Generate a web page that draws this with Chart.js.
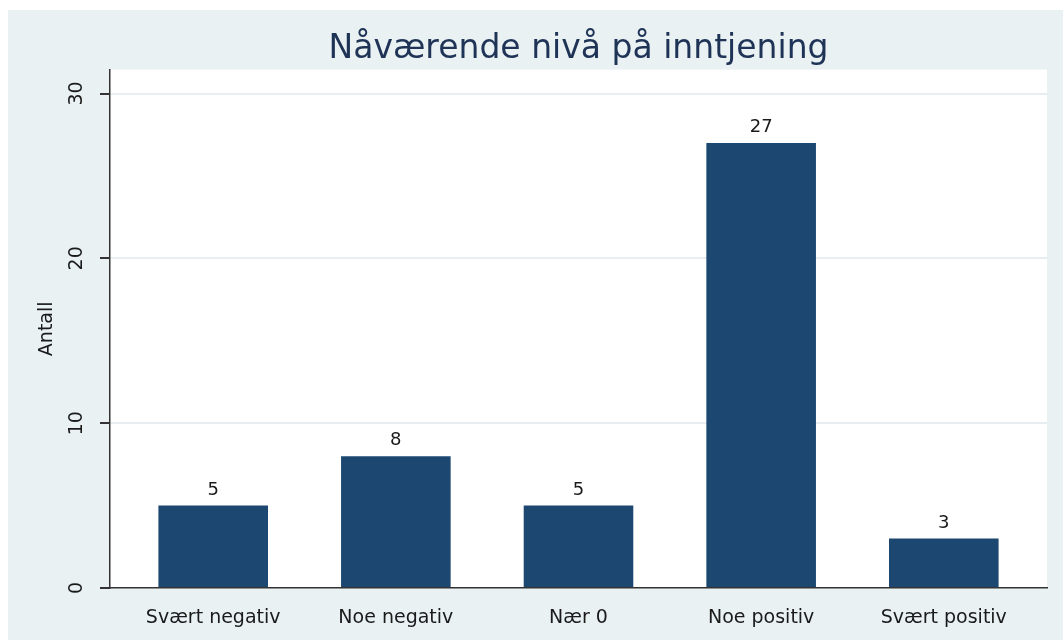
<!DOCTYPE html>
<html>
<head>
<meta charset="utf-8">
<script src="https://cdn.jsdelivr.net/npm/chart.js@4.4.1/dist/chart.umd.min.js"></script>
<style>
  html, body { margin: 0; padding: 0; background: #ffffff; }
  #wrap { position: absolute; left: 8px; top: 10px; width: 1055px; height: 630px; background: #e9f1f3; }
  canvas { display: block; }
</style>
</head>
<body>
<div id="wrap"><canvas id="c" width="1055" height="630"></canvas></div>
<script>
const categories = ["Svært negativ", "Noe negativ", "Nær 0", "Noe positiv", "Svært positiv"];
const counts = [5, 8, 5, 27, 3];
const yTicks = [0, 10, 20, 30];
const chartTitle = "Nåværende nivå på inntjening";
const yTitle = "Antall";

const FONT = "'DejaVu Sans', 'Liberation Sans', Arial, sans-serif";

const plotBg = {
  id: 'plotBg',
  beforeDraw(chart) {
    const { ctx, chartArea: a } = chart;
    ctx.save();
    ctx.fillStyle = '#ffffff';
    ctx.fillRect(a.left, a.top, a.right - a.left, a.bottom - a.top);
    ctx.restore();
  }
};

const labelsPlugin = {
  id: 'labelsPlugin',
  afterDraw(chart) {
    const ctx = chart.ctx;
    const y = chart.scales.y;
    ctx.save();
    ctx.fillStyle = '#1a1a1a';
    ctx.font = '19px ' + FONT;
    ctx.textAlign = 'center';
    ctx.textBaseline = 'middle';
    // rotated y tick labels
    yTicks.forEach(v => {
      const py = y.getPixelForValue(v);
      ctx.save();
      ctx.translate(69, py);
      ctx.rotate(-Math.PI / 2);
      ctx.fillText(String(v), 0, 0);
      ctx.restore();
    });
    // value labels above bars
    const meta = chart.getDatasetMeta(0);
    ctx.font = '18px ' + FONT;
    ctx.textBaseline = 'alphabetic';
    meta.data.forEach((bar, i) => {
      ctx.fillText(String(counts[i]), bar.x, bar.y - 11);
    });
    ctx.restore();
  }
};

new Chart(document.getElementById('c'), {
  type: 'bar',
  data: {
    datasets: [{
      data: counts.map((v, i) => ({ x: i, y: v })),
      backgroundColor: '#1c4770',
      borderWidth: 0,
      barPercentage: 0.6,
      categoryPercentage: 1.0
    }]
  },
  options: {
    responsive: false,
    animation: false,
    layout: { padding: { left: 0, right: 16, top: 0, bottom: 0 } },
    plugins: {
      legend: { display: false },
      tooltip: { enabled: false },
      title: {
        display: true,
        text: chartTitle,
        fullSize: false,
        color: '#1e3356',
        font: { family: FONT, size: 33, weight: 'normal' },
        padding: { top: 20, bottom: 0 }
      }
    },
    scales: {
      x: {
        type: 'linear',
        offset: false,
        min: -0.565,
        max: 4.565,
        afterBuildTicks(scale) { scale.ticks = categories.map((c, i) => ({ value: i })); },
        afterFit(scale) { scale.height = 52; },
        grid: { display: false, drawTicks: false },
        border: { display: true, color: '#333333', width: 1.5 },
        ticks: {
          autoSkip: false,
          maxRotation: 0,
          padding: 19,
          color: '#1a1a1a',
          font: { family: FONT, size: 19 },
          callback: (v) => categories[v] ?? ''
        }
      },
      y: {
        min: 0,
        max: 31.45,
        afterBuildTicks(scale) { scale.ticks = yTicks.map(v => ({ value: v })); },
        afterFit(scale) { scale.width = 102; },
        grid: {
          color: (c) => (c.tick && c.tick.value === 0) ? 'rgba(0,0,0,0)' : '#e6eef1',
          lineWidth: 2,
          drawTicks: true,
          tickLength: 10,
          tickColor: '#333333'
        },
        border: { display: true, color: '#333333', width: 1.5 },
        ticks: { display: false },
        title: {
          display: true,
          text: yTitle,
          color: '#1a1a1a',
          font: { family: FONT, size: 19 },
          padding: { top: 28, bottom: 0 }
        }
      }
    }
  },
  plugins: [plotBg, labelsPlugin]
});
</script>
</body>
</html>
